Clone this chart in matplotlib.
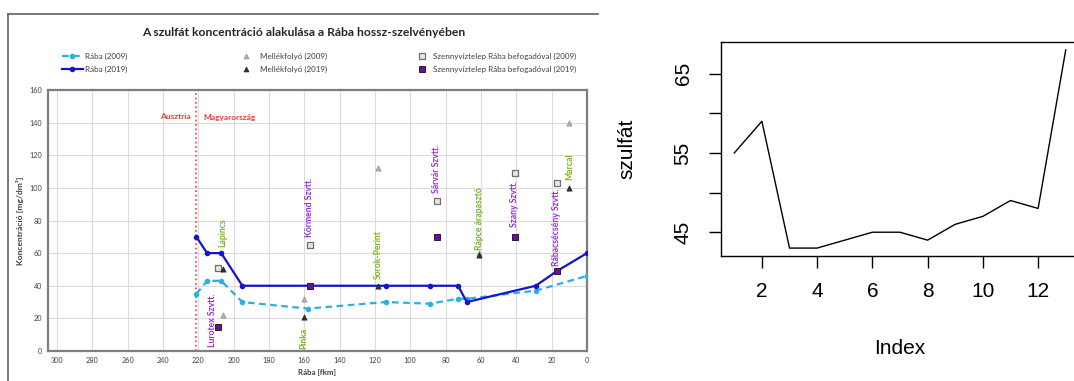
import matplotlib
matplotlib.use('Agg')
import matplotlib.pyplot as plt
from matplotlib.lines import Line2D

# Rába main channel (river km, sulfate mg/dm3)
raba_2009_km = [221, 215, 207, 195, 158, 114, 89, 73, 68, 29, 0]
raba_2009 = [35, 43, 43, 30, 26, 30, 29, 32, 32, 37, 46]
raba_2019_km = [221, 215, 207, 195, 157, 114, 89, 73, 68, 29, 17, 0]
raba_2019 = [70, 60, 60, 40, 40, 40, 40, 40, 30, 40, 49, 60]

# tributaries
trib_names = ['Lapincs', 'Pinka', 'Sorok-Perint', 'Rápce árapasztó', 'Marcal']
trib_km = [206, 160, 118, 61, 10]
trib_2009 = [22, 32, 112, 60, 140]
trib_2019 = [50, 21, 40, 59, 100]
trib_label_y = [64, 14, 44, 62, 105]
trib_label_va = ['bottom', 'top', 'bottom', 'bottom', 'bottom']

# waste water plants
wwtp_names = ['Lurotex Szvtt.', 'Körmend Szvtt.', 'Sárvár Szvtt.', 'Szany Szvtt.', 'Rábacsécsény Szvtt.']
wwtp_km = [209, 157, 85, 41, 17]
wwtp_label_km = [212, 157, 85, 41, 17]
wwtp_2009 = [51, 65, 92, 109, 103]
wwtp_2019 = [15, 40, 70, 70, 49]
wwtp_label_y = [35, 70, 97, 76, 52]
wwtp_label_va = ['top', 'bottom', 'bottom', 'bottom', 'bottom']

border_km = 221

# R plot
szulfat = [55, 59, 43, 43, 44, 45, 45, 44, 46, 47, 49, 48, 68]

W, H = 1074, 381
LIGHT = '#29B0E6'
DARK = '#1414CC'
GREEN = '#78B428'
PURPLE = '#9A2FD0'
RED = '#F03C3C'
R_FONT = ['Liberation Sans', 'DejaVu Sans']

plt.rcParams['font.family'] = ['Lato', 'DejaVu Sans']

fig = plt.figure(figsize=(W / 100, H / 100), dpi=100)

# chart area border (left and top visible)
fig.add_artist(Line2D([8 / W, 8 / W], [0, 1 - 14 / H], color='#606060', lw=1.2))
fig.add_artist(Line2D([8 / W, 598 / W], [1 - 14 / H, 1 - 14 / H], color='#606060', lw=1.2))

ax = fig.add_axes([48 / W, 1 - 351 / H, (587 - 48) / W, (351 - 90) / H])
ax.set_xlim(305, 0)
ax.set_ylim(0, 160)
ax.set_xticks(range(0, 301, 20))
ax.set_yticks(range(0, 161, 20))
ax.grid(color='#DCDCDC', lw=0.8)
ax.set_axisbelow(True)
for sp in ax.spines.values():
    sp.set_color('#7F7F7F')
    sp.set_linewidth(1.6)
ax.tick_params(length=0, labelsize=5.2, colors='#404040', pad=4)

ax.axvline(border_km, color=RED, ls=':', lw=1.2, zorder=1)

ax.plot(raba_2009_km, raba_2009, color=LIGHT, ls=(0, (3, 2)), lw=1.6,
        marker='o', ms=3, zorder=3)
ax.plot(raba_2019_km, raba_2019, color=DARK, lw=1.6, marker='o', ms=3, zorder=4)

ax.scatter(trib_km, trib_2009, marker='^', s=14, color='#B4B4B4',
           edgecolor='#8C8C8C', lw=0.5, zorder=5)
ax.scatter(trib_km, trib_2019, marker='^', s=14, color='#2E3B2A',
           edgecolor='#1A1A1A', lw=0.5, zorder=6)
ax.scatter(wwtp_km, wwtp_2009, marker='s', s=18, color='#E6E6E6',
           edgecolor='#707070', lw=0.9, zorder=5)
ax.scatter(wwtp_km, wwtp_2019, marker='s', s=18, color='#6A0DA0',
           edgecolor='#2A1A2A', lw=0.7, zorder=6)

for name, km, y, va in zip(trib_names, trib_km, trib_label_y, trib_label_va):
    ax.text(km, y, name, rotation=90, ha='center', va=va, color=GREEN,
            fontsize=6.2, weight='bold')
for name, km, y, va in zip(wwtp_names, wwtp_label_km, wwtp_label_y, wwtp_label_va):
    ax.text(km, y, name, rotation=90, ha='center', va=va, color=PURPLE,
            fontsize=6.2, weight='bold')

ax.text(224, 144, 'Ausztria', ha='right', va='center', color=RED, fontsize=6, weight='bold')
ax.text(217, 143, 'Magyarország', ha='left', va='center', color=RED, fontsize=6, weight='bold')

ax.set_xlabel('Rába [fkm]', fontsize=5.7, weight='bold', color='#404040', labelpad=4)
ax.set_ylabel('Koncentráció [mg/dm³]', fontsize=6.1, weight='bold', color='#404040', labelpad=4)

fig.text(304 / W, 1 - 33 / H, 'A szulfát koncentráció alakulása a Rába hossz-szelvényében',
         ha='center', va='center', fontsize=8.7, weight='bold', color='#262626')

# legend, three columns of two rows
leg_kw = dict(loc='upper left', frameon=False, fontsize=5.8, borderpad=0,
              borderaxespad=0, labelspacing=0.65, labelcolor='#404040')
h1 = [Line2D([], [], color=LIGHT, ls=(0, (3, 2)), lw=1.6, marker='o', ms=3),
      Line2D([], [], color=DARK, lw=1.6, marker='o', ms=3)]
fig.legend(h1, ['Rába (2009)', 'Rába (2019)'], bbox_to_anchor=(62 / W, 1 - 53 / H),
           handlelength=2.6, handletextpad=0.3, **leg_kw)
h2 = [Line2D([], [], ls='none', marker='^', ms=3.5, color='#B4B4B4', mec='#8C8C8C', mew=0.5),
      Line2D([], [], ls='none', marker='^', ms=3.5, color='#2E3B2A', mec='#1A1A1A', mew=0.5)]
fig.legend(h2, ['Mellékfolyó (2009)', 'Mellékfolyó (2019)'], bbox_to_anchor=(242 / W, 1 - 53 / H),
           handlelength=1.1, handletextpad=1.1, **leg_kw)
h3 = [Line2D([], [], ls='none', marker='s', ms=4, color='#E6E6E6', mec='#707070', mew=0.9),
      Line2D([], [], ls='none', marker='s', ms=4, color='#6A0DA0', mec='#2A1A2A', mew=0.7)]
fig.legend(h3, ['Szennyvíztelep Rába befogadóval (2009)', 'Szennyvíztelep Rába befogadóval (2019)'],
           bbox_to_anchor=(418 / W, 1 - 53 / H), handlelength=1.1, handletextpad=0.8, **leg_kw)

# right: base R style line plot
ax2 = fig.add_axes([721 / W, 1 - 256 / H, (1079 - 721) / W, (256 - 42) / H])
idx = list(range(1, len(szulfat) + 1))
ax2.plot(idx, szulfat, color='black', lw=1.0)
ax2.set_xlim(0.52, 13.48)
ax2.set_ylim(42, 69)
ax2.set_xticks([2, 4, 6, 8, 10, 12])
ax2.set_yticks([45, 50, 55, 60, 65], ['45', '', '55', '', '65'])
for sp in ax2.spines.values():
    sp.set_linewidth(1.0)
ax2.tick_params(direction='out', length=8.5, width=1.0, labelsize=15)
ax2.tick_params(axis='x', pad=10)
ax2.tick_params(axis='y', pad=12, labelrotation=90)
for lbl in ax2.get_yticklabels():
    lbl.set_va('center')
    lbl.set_family(R_FONT)
for lbl in ax2.get_xticklabels():
    lbl.set_family(R_FONT)
ax2.set_xlabel('Index', fontsize=15, family=R_FONT, va='center')
ax2.xaxis.set_label_coords(0.5, -0.43)
ax2.set_ylabel('szulfát', fontsize=15, family=R_FONT, va='center')
ax2.yaxis.set_label_coords(-0.2626, 0.5)

fig.savefig('out.png', dpi=100)
